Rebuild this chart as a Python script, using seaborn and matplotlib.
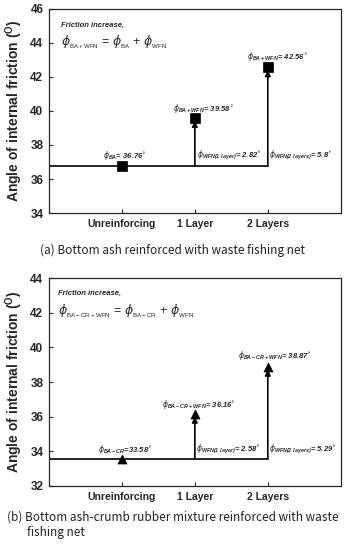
import numpy as np
import pandas as pd
import matplotlib
matplotlib.use('Agg')
import matplotlib.pyplot as plt
import seaborn as sns

# ---- data ----
categories = ['Unreinforcing', '1 Layer', '2 Layers']
phi_ba = [36.76, 39.58, 42.56]          # (a) bottom ash + WFN
inc_ba = [2.82, 5.8]
phi_bacr = [33.58, 36.16, 38.87]        # (b) bottom ash-crumb rubber + WFN
inc_bacr = [2.58, 5.29]

sns.set_style('ticks')
plt.rcParams['font.family'] = ['Liberation Sans', 'DejaVu Sans']
plt.rcParams['mathtext.fontset'] = 'dejavusans'

fig = plt.figure(figsize=(3.47, 5.5), dpi=100)
ax_a = fig.add_axes([0.141, 0.6127, 0.841, 0.371])
ax_b = fig.add_axes([0.141, 0.1164, 0.841, 0.378])


def draw_panel(ax, vals, incs, marker, ylim, yticks, sub_base, sub_top, labels, pos):
    df = pd.DataFrame({'x': [0, 1, 2], 'phi': vals})
    base = vals[0]
    # baseline
    ax.plot([-1, 2], [base, base], color='black', lw=1.2, zorder=2)
    # arrows for friction increase
    for xi, v in zip([1, 2], vals[1:]):
        ax.annotate('', xy=(xi, v), xytext=(xi, base),
                    arrowprops=dict(arrowstyle='-|>', color='black', lw=1.2,
                                    mutation_scale=8, shrinkA=0, shrinkB=2),
                    zorder=3)
    sns.scatterplot(data=df, x='x', y='phi', marker=marker, s=42, color='black',
                    edgecolor='black', linewidth=0.5, ax=ax, zorder=4, legend=False)

    ax.set_xlim(-1, 3)
    ax.set_ylim(*ylim)
    ax.set_yticks(yticks)
    ax.set_xticks([0, 1, 2])
    ax.set_xticklabels(categories, fontsize=7.5, fontweight='bold')
    ax.set_yticklabels([str(t) for t in yticks], fontsize=8.5, fontweight='bold')
    ax.tick_params(direction='in', length=3, width=0.8, pad=4)
    ax.set_xlabel('')
    ax.set_ylabel(r'Angle of internal friction ($^{\mathregular{O}}$)',
                  fontsize=10, fontweight='bold', labelpad=4)
    for s in ax.spines.values():
        s.set_linewidth(0.9)

    tkw = dict(fontsize=5.5, fontweight='bold', fontstyle='italic', va='center', ha='left')
    ax.text(pos['fi'][0], pos['fi'][1], 'Friction increase,', **tkw)
    ax.text(pos['eq'][0], pos['eq'][1],
            r'$\phi_{_{\mathregular{%s}}}$ = $\phi_{_{\mathregular{%s}}}$ + $\phi_{_{\mathregular{WFN}}}$'
            % (sub_top, sub_base), fontsize=9, va='center', ha='left')
    for (x, y), txt in zip(pos['lab'], labels):
        ax.text(x, y, txt, **tkw)


deg = r'$^{\circ}$'
labels_a = [r'$\phi_{\mathregular{BA}}$= %.2f' % phi_ba[0] + deg,
            r'$\phi_{\mathregular{BA+WFN}}$= %.2f' % phi_ba[1] + deg,
            r'$\phi_{\mathregular{BA+WFN}}$= %.2f' % phi_ba[2] + deg,
            r'$\phi_{\mathregular{WFN(1\ layer)}}$= %.2f' % inc_ba[0] + deg,
            r'$\phi_{\mathregular{WFN(2\ layers)}}$= %.1f' % inc_ba[1] + deg]
pos_a = {'fi': (-0.84, 45.06), 'eq': (-0.84, 44.06),
         'lab': [(-0.26, 37.41), (0.70, 40.12), (1.71, 43.18), (1.03, 37.41), (2.02, 37.41)]}
draw_panel(ax_a, phi_ba, inc_ba, 's', (34, 46), [34, 36, 38, 40, 42, 44, 46],
           'BA', 'BA+WFN', labels_a, pos_a)

labels_b = [r'$\phi_{\mathregular{BA-CR}}$=%.2f' % phi_bacr[0] + deg,
            r'$\phi_{\mathregular{BA-CR+WFN}}$= %.2f' % phi_bacr[1] + deg,
            r'$\phi_{\mathregular{BA-CR+WFN}}$= %.2f' % phi_bacr[2] + deg,
            r'$\phi_{\mathregular{WFN(1\ layer)}}$= %.2f' % inc_bacr[0] + deg,
            r'$\phi_{\mathregular{WFN(2\ layers)}}$= %.2f' % inc_bacr[1] + deg]
pos_b = {'fi': (-0.88, 43.13), 'eq': (-0.88, 42.10),
         'lab': [(-0.33, 34.13), (0.55, 36.73), (1.59, 39.56), (1.01, 34.13), (2.01, 34.13)]}
draw_panel(ax_b, phi_bacr, inc_bacr, '^', (32, 44), [32, 34, 36, 38, 40, 42, 44],
           'BA-CR', 'BA-CR+WFN', labels_b, pos_b)

cap = dict(fontsize=8.5, family=['Noto Sans CJK KR', 'DejaVu Sans'], color='#222222')
fig.text(0.497, 0.545, '(a) Bottom ash reinforced with waste fishing net',
         ha='center', va='center', **cap)
fig.text(0.02, 0.06, '(b) Bottom ash-crumb rubber mixture reinforced with waste',
         ha='left', va='center', **cap)
fig.text(0.078, 0.031, 'fishing net', ha='left', va='center', **cap)

fig.savefig('out.png', dpi=100)
